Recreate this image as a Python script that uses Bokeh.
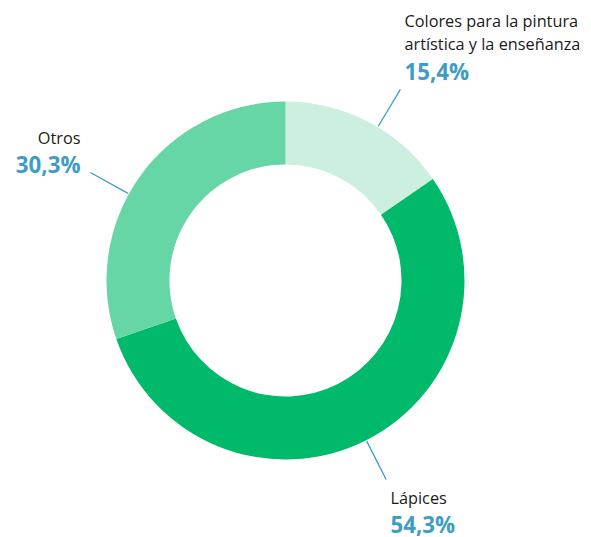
import math
from bokeh.plotting import figure
from bokeh.models import Range1d, ColumnDataSource
from bokeh.core.properties import value
from bokeh.embed import file_html
from bokeh.resources import INLINE

# ---- data ----
categories = ["Colores para la pintura\nartística y la enseñanza", "Lápices", "Otros"]
shares = [15.4, 54.3, 30.3]
pct_labels = ["15,4%", "54,3%", "30,3%"]
colors = ["#ccefe0", "#00b96b", "#66d6a6"]

# ---- layout (pixels, centre of donut at origin) ----
W, H = 591, 537
cx, cy = 285, 280  # donut centre in page pixels
R_OUT, R_IN = 179, 116
LEAD_IN, LEAD_OUT = 180, 223
lead_offsets_deg = [3.3, 0.0, -6.5]
label_pos = [(404, 20, "left"), (390, 497, "left"), (80, 137, "right")]
LINE_H = 23
PCT_GAP = 27
BLUE = "#3d9dc4"
FONT = "Open Sans"

def px(x, y):
    return x - cx, cy - y

p = figure(width=W, height=H, output_backend="svg", toolbar_location=None,
           x_range=Range1d(0 - cx, W - cx), y_range=Range1d(cy - H, cy),
           min_border=0, outline_line_color=None)
p.axis.visible = False
p.grid.visible = False
p.background_fill_color = "white"
p.border_fill_color = "white"

total = sum(shares)
starts, ends, mids = [], [], []
acc = 0.0
for s in shares:
    a0 = math.pi / 2 - 2 * math.pi * acc / total
    acc += s
    a1 = math.pi / 2 - 2 * math.pi * acc / total
    starts.append(a0)
    ends.append(a1)
    mids.append((a0 + a1) / 2)

src = ColumnDataSource(dict(x=[0] * len(shares), y=[0] * len(shares),
                            start=starts, end=ends, color=colors))
p.annular_wedge(x="x", y="y", inner_radius=R_IN, outer_radius=R_OUT,
                start_angle="start", end_angle="end", direction="clock",
                fill_color="color", line_color=None, source=src)

# leader lines
xs, ys = [], []
for m, off in zip(mids, lead_offsets_deg):
    a = m - math.radians(off)
    xs.append([LEAD_IN * math.cos(a), LEAD_OUT * math.cos(a)])
    ys.append([LEAD_IN * math.sin(a), LEAD_OUT * math.sin(a)])
p.multi_line(xs=xs, ys=ys, line_color=BLUE, line_width=1.3)

# labels
for cat, pct, (lx, ly, align) in zip(categories, pct_labels, label_pos):
    lines = cat.split("\n")
    for i, ln in enumerate(lines):
        x, y = px(lx, ly + i * LINE_H)
        p.text(x=[x], y=[y], text=[ln], text_font=value(FONT), text_font_size="16.3px",
               text_color="#1a1a1a", text_align=align, text_baseline="alphabetic")
    x, y = px(lx, ly + (len(lines) - 1) * LINE_H + PCT_GAP + (1 if len(lines) > 1 else 0))
    p.text(x=[x], y=[y], text=[pct], text_font=value(FONT), text_font_size="22.3px",
           text_font_style="bold", text_color=BLUE, text_align=align,
           text_baseline="alphabetic")

open("out.html", "w").write(file_html(p, INLINE))
